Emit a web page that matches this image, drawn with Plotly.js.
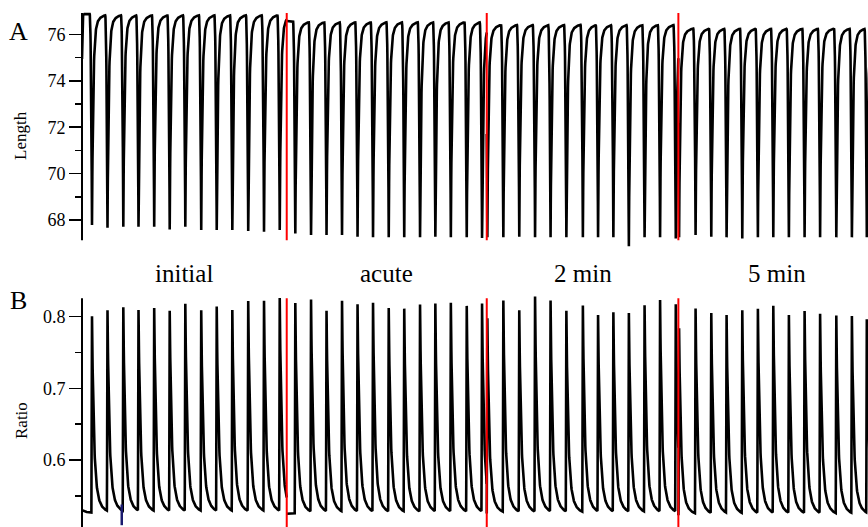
<!DOCTYPE html>
<html><head><meta charset="utf-8">
<script src="https://cdn.plot.ly/plotly-3.0.1.min.js"></script>
<style>html,body{margin:0;padding:0;background:#fff;} #chart{width:868px;height:527px;}</style>
</head><body><div id="chart"></div>
<script>
// ---------------- data ----------------
const segmentLabels = ['initial', 'acute', '2 min', '5 min'];
const segmentStart = [0, 13.08, 25.859, 38.102];   // s
const segmentEnd   = [13.08, 25.859, 38.102, 50.75];

// beat times (s): contraction minimum / ratio peak
const beatTimesInitial = [0.639, 1.629, 2.639, 3.610, 4.613, 5.604, 6.601, 7.617, 8.607, 9.604, 10.620, 11.629, 12.633];
const beatTimesAcute   = [13.629, 14.633, 15.623, 16.613, 17.604, 18.594, 19.597, 20.588, 21.597, 22.575, 23.565, 24.581, 25.559];
const beatTimes2min    = [25.898, 26.920, 27.936, 28.946, 29.936, 30.946, 32.000, 32.971, 33.949, 34.939, 35.942, 36.933, 37.936];
const beatTimes5min    = [38.147, 39.201, 40.204, 41.182, 42.185, 43.182, 44.166, 45.163, 46.166, 47.157, 48.192, 49.188, 50.141];

// panel A: minimum length per beat
const lengthMinInitial = [67.78, 67.67, 67.71, 67.71, 67.71, 67.59, 67.71, 67.57, 67.57, 67.57, 67.52, 67.49, 67.57];
const lengthMinAcute   = [67.42, 67.35, 67.35, 67.35, 67.28, 67.25, 67.25, 67.25, 67.25, 67.28, 67.25, 67.25, 67.22];
const lengthMin2min    = [67.25, 67.25, 67.28, 67.25, 67.25, 67.25, 67.25, 67.25, 67.25, 66.87, 67.25, 67.25, 67.20];
const lengthMin5min    = [67.25, 67.35, 67.28, 67.25, 67.20, 67.25, 67.25, 67.25, 67.25, 67.25, 67.25, 67.25, 67.25];
// resting (diastolic) length per segment
const lengthRest = [76.88, 76.58, 76.46, 76.30];
const lengthFirstSample = [74.95, null, null, null];

// panel B: peak ratio per beat
const ratioPeakInitial = [0.800, 0.806, 0.810, 0.806, 0.809, 0.805, 0.815, 0.806, 0.811, 0.806, 0.819, 0.819, 0.823];
const ratioPeakAcute   = [0.819, 0.821, 0.805, 0.819, 0.814, 0.816, 0.809, 0.808, 0.814, 0.815, 0.816, 0.812, 0.815];
const ratioPeak2min    = [0.798, 0.820, 0.806, 0.825, 0.819, 0.805, 0.813, 0.799, 0.803, 0.802, 0.813, 0.820, 0.814];
const ratioPeak5min    = [0.784, 0.809, 0.802, 0.799, 0.806, 0.808, 0.812, 0.799, 0.805, 0.801, 0.799, 0.798, 0.793];
const ratioBaseline = [0.526, 0.525, 0.525, 0.523];
const ratioFirstSample = [0.530, null, null, null];

// small blue mark near the bottom of panel B
const blueMarkTime = [2.54, 2.54];
const blueMarkRatio = [0.509, 0.538];

// axes
const timeRange = [0, 50.217];
const lengthRange = [66.75, 77.0];
const lengthTicks = [68, 70, 72, 74, 76];
const lengthMinorTicks = [69, 71, 73, 75];
const lengthAxisExtent = [67.13, 76.93];
const ratioRange = [0.5065, 0.83];
const ratioTicks = [0.6, 0.7, 0.8];
const ratioTickText = ['0.6', '0.7', '0.8'];
const ratioMinorTicks = [0.55, 0.65, 0.75];
const ratioAxisExtent = [0.5065, 0.8257];

// ---------------- waveform construction ----------------
const beatTimes = [beatTimesInitial, beatTimesAcute, beatTimes2min, beatTimes5min];
const lengthMin = [lengthMinInitial, lengthMinAcute, lengthMin2min, lengthMin5min];
const ratioPeak = [ratioPeakInitial, ratioPeakAcute, ratioPeak2min, ratioPeak5min];

const DT = 0.01;
// template shape of one twitch (style)
const CONTRACT = 0.15, CPOW = 2.2, RELAX_FAST = 0.075, RELAX_SLOW = 0.3, FAST_FRAC = 0.9;
const RISE = 0.04, DECAY_FAST = 0.11, DECAY_SLOW = 0.33, DECAY_FAST_FRAC = 0.78;

function sampleTimes(s) {
  const ts = [];
  const n = Math.round((segmentEnd[s] - segmentStart[s]) / DT);
  for (let k = 0; k <= n; k++) ts.push(segmentStart[s] + k * DT);
  beatTimes[s].forEach(b => {
    [b, b - CONTRACT, b - RISE].forEach(v => { if (v > segmentStart[s] && v < segmentEnd[s]) ts.push(v); });
  });
  ts.sort((a, b) => a - b);
  return ts;
}

function lengthSeries(s) {
  const bt = beatTimes[s], lm = lengthMin[s], top = lengthRest[s];
  const xs = [], ys = [];
  sampleTimes(s).forEach(t => {
    let i = -1;
    for (let q = 0; q < bt.length; q++) if (bt[q] <= t + 1e-9) i = q;
    let L;
    if (i < 0) {
      L = lengthFirstSample[s] == null ? top :
          top - (top - lengthFirstSample[s]) * Math.exp(-(t - segmentStart[s]) / 0.02);
    } else {
      const u = Math.max(0, t - bt[i]);
      L = top - (top - lm[i]) * (FAST_FRAC * Math.exp(-u / RELAX_FAST) + (1 - FAST_FRAC) * Math.exp(-u / RELAX_SLOW));
    }
    const j = i + 1;
    if (j < bt.length && bt[j] - t < CONTRACT) {
      const g = Math.pow((t - (bt[j] - CONTRACT)) / CONTRACT, CPOW);
      L = L - (L - lm[j]) * g;
    }
    xs.push(t); ys.push(L);
  });
  return {xs, ys};
}

function ratioSeries(s) {
  const bt = beatTimes[s], pk = ratioPeak[s], base = ratioBaseline[s];
  const xs = [], ys = [];
  sampleTimes(s).forEach(t => {
    let R = base;
    if (ratioFirstSample[s] != null) R += (ratioFirstSample[s] - base) * Math.exp(-(t - segmentStart[s]) / 0.3);
    for (let q = 0; q < bt.length; q++) {
      const u = t - bt[q];
      if (u < -RISE || u > 3) continue;
      let h;
      if (u < 0) { const z = (u + RISE) / RISE; h = z * z * (3 - 2 * z); }
      else h = DECAY_FAST_FRAC * Math.exp(-u / DECAY_FAST) + (1 - DECAY_FAST_FRAC) * Math.exp(-u / DECAY_SLOW);
      R += (pk[q] - base) * h;
    }
    xs.push(t); ys.push(R);
  });
  return {xs, ys};
}

const traces = [];
for (let s = 0; s < 4; s++) {
  const a = lengthSeries(s);
  traces.push({x: a.xs, y: a.ys, type: 'scatter', mode: 'lines', xaxis: 'x', yaxis: 'y',
    line: {color: '#000', width: 2.6}, hoverinfo: 'skip', showlegend: false});
  const b = ratioSeries(s);
  traces.push({x: b.xs, y: b.ys, type: 'scatter', mode: 'lines', xaxis: 'x2', yaxis: 'y2',
    line: {color: '#000', width: 2.6}, hoverinfo: 'skip', showlegend: false});
}
traces.push({x: blueMarkTime, y: blueMarkRatio, type: 'scatter', mode: 'lines', xaxis: 'x2', yaxis: 'y2',
  line: {color: '#1a1a6e', width: 2.5}, hoverinfo: 'skip', showlegend: false});

// ---------------- layout ----------------
const serif = 'Liberation Serif, Times New Roman, serif';
const shapes = [];
shapes.push({type: 'line', xref: 'paper', yref: 'y', x0: 0, x1: 0, y0: lengthAxisExtent[0], y1: lengthAxisExtent[1], line: {color: '#000', width: 2}});
shapes.push({type: 'line', xref: 'paper', yref: 'y2', x0: 0, x1: 0, y0: ratioAxisExtent[0], y1: ratioAxisExtent[1], line: {color: '#000', width: 2}});
for (let s = 1; s < 4; s++) {
  shapes.push({type: 'line', xref: 'x', yref: 'y', x0: segmentStart[s], x1: segmentStart[s], y0: lengthAxisExtent[0], y1: lengthAxisExtent[1], line: {color: '#ff0000', width: 2}});
  shapes.push({type: 'line', xref: 'x2', yref: 'y2', x0: segmentStart[s], x1: segmentStart[s], y0: ratioAxisExtent[0], y1: ratioAxisExtent[1], line: {color: '#ff0000', width: 2}});
}

const annotations = segmentLabels.map((lab, s) => ({
  text: lab, xref: 'x', yref: 'paper', x: (segmentStart[s] + segmentEnd[s]) / 2, y: 1 - 273 / 527,
  showarrow: false, xanchor: 'center', yanchor: 'middle', font: {family: serif, size: 25, color: '#000'}
}));
annotations.push({text: 'A', xref: 'paper', yref: 'paper', x: (18 - 82) / 786, y: 1 - 32 / 527, showarrow: false,
  xanchor: 'center', yanchor: 'middle', font: {family: serif, size: 26, color: '#000'}});
annotations.push({text: 'B', xref: 'paper', yref: 'paper', x: (18 - 82) / 786, y: 1 - 300 / 527, showarrow: false,
  xanchor: 'center', yanchor: 'middle', font: {family: serif, size: 26, color: '#000'}});
annotations.push({text: 'Length', xref: 'paper', yref: 'paper', x: (20 - 82) / 786, y: 1 - 136 / 527, showarrow: false,
  textangle: -90, xanchor: 'center', yanchor: 'middle', font: {family: serif, size: 17, color: '#000'}});
annotations.push({text: 'Ratio', xref: 'paper', yref: 'paper', x: (21 - 82) / 786, y: 1 - 421 / 527, showarrow: false,
  textangle: -90, xanchor: 'center', yanchor: 'middle', font: {family: serif, size: 17, color: '#000'}});

const yCommon = {showgrid: false, zeroline: false, showline: false, ticks: 'outside', ticklen: 12, tickwidth: 1.5,
  tickcolor: '#000', tickfont: {family: serif, size: 18, color: '#000'}, fixedrange: true};

const layout = {
  width: 868, height: 527, margin: {l: 82, r: 0, t: 0, b: 0},
  paper_bgcolor: '#fff', plot_bgcolor: 'rgba(0,0,0,0)',
  xaxis: {domain: [0, 1], range: timeRange, visible: false, anchor: 'y', fixedrange: true},
  xaxis2: {domain: [0, 1], range: timeRange, visible: false, anchor: 'y2', fixedrange: true},
  yaxis: Object.assign({}, yCommon, {domain: [0.5276, 0.9785], range: lengthRange, anchor: 'x',
    tickmode: 'array', tickvals: lengthTicks, ticktext: lengthTicks.map(String),
    minor: {ticks: 'outside', ticklen: 6, tickwidth: 1.5, tickcolor: '#000', tickmode: 'array', tickvals: lengthMinorTicks}}),
  yaxis2: Object.assign({}, yCommon, {domain: [0, 0.4398], range: ratioRange, anchor: 'x2',
    tickmode: 'array', tickvals: ratioTicks, ticktext: ratioTickText,
    minor: {ticks: 'outside', ticklen: 6, tickwidth: 1.5, tickcolor: '#000', tickmode: 'array', tickvals: ratioMinorTicks}}),
  shapes: shapes, annotations: annotations, showlegend: false
};

Plotly.newPlot('chart', traces, layout, {displayModeBar: false, staticPlot: true});
</script></body></html>
